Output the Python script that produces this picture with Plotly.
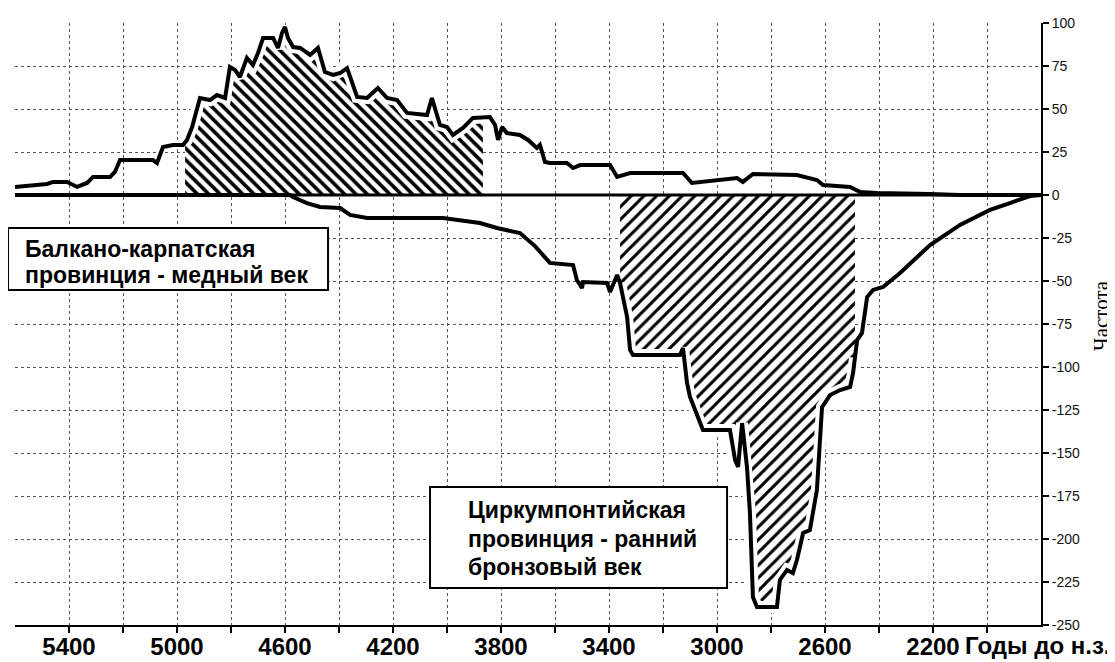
import numpy as np
import plotly.graph_objects as go

# ---- data ----
# Балкано-карпатская провинция (upper curve)
years_bk = [5600, 5533, 5481, 5459, 5407, 5370, 5333, 5311, 5248, 5230, 5211, 5089, 5074, 5052,
            5015, 4978, 4963, 4944, 4926, 4915, 4878, 4852, 4822, 4804, 4785, 4767, 4741, 4719,
            4700, 4681, 4644, 4626, 4611, 4600, 4589, 4570, 4544, 4507, 4478, 4452, 4422, 4396,
            4370, 4333, 4296, 4256, 4222, 4185, 4148, 4074, 4056, 4044, 4026, 4000, 3978, 3941,
            3904, 3841, 3822, 3811, 3796, 3778, 3730, 3700, 3667, 3656, 3637, 3619, 3556, 3533,
            3507, 3396, 3370, 3322, 3126, 3093, 3026, 2926, 2904, 2867, 2704, 2630, 2607, 2507,
            2470, 2407, 2211, 2100, 1800]
freq_bk = [4.7, 5.8, 6.4, 7.6, 7.6, 4.7, 7.0, 10.5, 10.5, 13.4, 20.3, 20.3, 18.6, 27.9,
           29.1, 29.1, 32.0, 39.5, 49.4, 56.4, 55.2, 58.1, 56.4, 74.4, 72.7, 68.6, 79.7, 75.6,
           82.6, 91.3, 91.3, 85.5, 94.2, 97.7, 91.3, 86.0, 85.5, 81.4, 85.5, 71.5, 69.8, 70.9,
           73.8, 57.0, 56.4, 62.2, 56.4, 55.2, 47.7, 46.5, 56.4, 49.4, 40.7, 39.5, 34.9, 39.0,
           44.8, 45.3, 40.7, 32.0, 39.5, 36.0, 34.9, 32.0, 27.3, 29.1, 19.2, 18.6, 18.6, 15.7,
           17.4, 17.4, 10.5, 12.8, 12.8, 7.0, 8.1, 9.9, 7.6, 12.2, 11.6, 8.7, 5.8, 4.7,
           1.7, 1.2, 0.6, 0.0, 0.0]

# Циркумпонтийская провинция (lower curve)
years_cp = [5600, 4581, 4570, 4519, 4470, 4396, 4359, 4296, 4015, 3878, 3815, 3730, 3674, 3637,
            3619, 3533, 3519, 3500, 3496, 3407, 3396, 3370, 3359, 3333, 3322, 3311, 3137, 3126,
            3111, 3100, 3063, 3052, 2952, 2933, 2922, 2907, 2889, 2878, 2867, 2852, 2778, 2767,
            2741, 2719, 2704, 2681, 2656, 2630, 2611, 2581, 2544, 2507, 2496, 2481, 2463, 2444,
            2422, 2385, 2322, 2211, 2100, 1989, 1915, 1841, 1800]
freq_cp = [0.0, 0.0, -1.2, -4.7, -7.0, -7.6, -11.6, -13.4, -13.4, -16.3, -19.2, -22.1, -29.7, -36.0,
           -39.5, -40.7, -49.4, -54.1, -50.6, -51.2, -56.4, -46.5, -51.2, -70.9, -90.1, -93.0, -93.0, -89.0,
           -109.3, -117.4, -132.6, -136.6, -136.6, -154.1, -158.1, -132.6, -158.1, -184.9, -233.7, -239.5, -239.5, -223.8,
           -218.0, -219.8, -212.2, -196.5, -194.8, -171.5, -123.3, -116.3, -113.4, -111.6, -103.5, -84.3, -80.2, -59.3,
           -55.2, -53.5, -45.3, -29.1, -17.4, -8.7, -4.7, -0.6, 0.0]

hatch_bk = (4970, 3867)   # hatched span of the upper curve
hatch_cp = (3359, 2489)   # hatched span of the lower curve

x_tick_vals = [5400, 5200, 5000, 4800, 4600, 4400, 4200, 4000, 3800, 3600, 3400, 3200,
               3000, 2800, 2600, 2400, 2200, 2000]
x_tick_text = ["5400", "", "5000", "", "4600", "", "4200", "", "3800", "", "3400", "",
               "3000", "", "2600", "", "2200", ""]
y_tick_vals = [100, 75, 50, 25, 0, -25, -50, -75, -100, -125, -150, -175, -200, -225, -250]
y_tick_text = ["100", "75", "50", "25", "0", "-25", "-50", "-75", "-100", "-125", "-150",
               "-175", "-200", "-225", "-250"]


def span(years, vals, lo_hi):
    start, end = lo_hi
    xs = np.array(years, dtype=float)[::-1]
    ys = np.array(vals, dtype=float)[::-1]
    inner = [(x, y) for x, y in zip(years, vals) if end < x < start]
    hx = [start] + [p[0] for p in inner] + [end]
    hy = [float(np.interp(start, xs, ys))] + [p[1] for p in inner] + [float(np.interp(end, xs, ys))]
    return hx, hy


fig = go.Figure()

for (yrs, vals, rng, shape, size, sol) in [
    (years_bk, freq_bk, hatch_bk, "\\", 8, 0.45),
    (years_cp, freq_cp, hatch_cp, "/", 9, 0.33),
]:
    hx, hy = span(yrs, vals, rng)
    fig.add_trace(go.Scatter(
        x=hx, y=hy, mode="lines", line=dict(width=0, color="black"),
        fill="tozeroy", fillcolor="white",
        fillpattern=dict(shape=shape, fgcolor="black", bgcolor="white", size=size,
                         solidity=sol, fillmode="replace"),
        hoverinfo="skip"))
    fig.add_trace(go.Scatter(x=hx, y=hy, mode="lines",
                             line=dict(width=12, color="white"), hoverinfo="skip"))

for yrs, vals in [(years_bk, freq_bk), (years_cp, freq_cp)]:
    fig.add_trace(go.Scatter(x=yrs, y=vals, mode="lines",
                             line=dict(width=4, color="black")))

# zero line
fig.add_shape(type="line", xref="paper", yref="y", x0=0, x1=1, y0=0, y1=0,
              line=dict(color="black", width=3), layer="above")

# text boxes
fig.add_shape(type="rect", xref="paper", yref="paper", x0=-0.0068, x1=0.3051, y0=0.5565, y1=0.6595,
              line=dict(color="black", width=2), fillcolor="white", layer="above")
fig.add_shape(type="rect", xref="paper", yref="paper", x0=0.4045, x1=0.6940, y0=0.0615, y1=0.2292,
              line=dict(color="black", width=2), fillcolor="white", layer="above")

box_font = dict(family="Liberation Sans, Arial, sans-serif", size=23, color="black", weight="bold")


def px_to_paper(px, py):
    return (px - 15) / 1026, (625 - py) / 602


for txt, px, py in [
    ("Балкано-карпатская", 23, 249),
    ("провинция - медный век", 23, 275),
    ("Циркумпонтийская", 466, 510),
    ("провинция - ранний", 466, 539),
    ("бронзовый век", 466, 567),
]:
    ax, ay = px_to_paper(px, py)
    fig.add_annotation(text=txt, xref="paper", yref="paper", x=ax, y=ay, xanchor="left",
                       yanchor="middle", showarrow=False, font=box_font)

ax, ay = px_to_paper(1112, 645)
fig.add_annotation(text="Годы до н.з.", xref="paper", yref="paper", x=ax, y=ay, xanchor="right",
                   yanchor="middle", showarrow=False,
                   font=dict(family="Liberation Sans, Arial, sans-serif", size=24,
                             color="black", weight="bold"))
ax, ay = px_to_paper(1101, 316)
fig.add_annotation(text="Частота", xref="paper", yref="paper", x=ax, y=ay, xanchor="center",
                   yanchor="middle", showarrow=False, textangle=-90,
                   font=dict(family="Liberation Serif, Times New Roman, serif", size=21, color="black"))

grid = dict(showgrid=True, gridcolor="#555555", gridwidth=1, griddash="dot")

# page body has an 8px default margin, so the figure is sized 8px smaller each way
fig.update_layout(
    width=1107, height=654,
    margin=dict(l=7, r=74, t=15, b=37, autoexpand=False),
    plot_bgcolor="white", paper_bgcolor="white",
    showlegend=False,
    xaxis=dict(range=[5600, 1800], tickvals=x_tick_vals, ticktext=x_tick_text,
               showline=True, linecolor="black", linewidth=2, ticks="outside", ticklen=6,
               tickwidth=2, tickcolor="black", zeroline=False, automargin=False,
               ticklabelstandoff=-7,
               tickfont=dict(family="Liberation Sans, Arial, sans-serif", size=24,
                             color="black", weight="bold"),
               **grid),
    yaxis=dict(range=[-250, 100], side="right", tickvals=y_tick_vals, ticktext=y_tick_text,
               showline=True, linecolor="black", linewidth=2, ticks="outside", ticklen=6,
               tickwidth=2, tickcolor="black", zeroline=False, automargin=False,
               tickfont=dict(family="Liberation Sans, Arial, sans-serif", size=14, color="#111"),
               **grid),
)

fig.write_html("out.html")
